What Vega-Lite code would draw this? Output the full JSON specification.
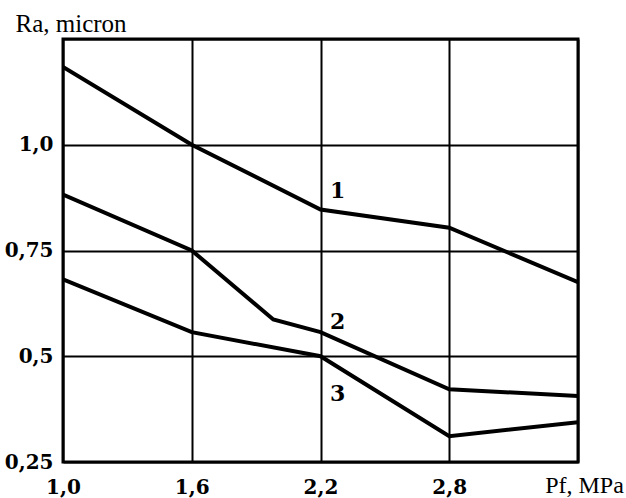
{
  "$schema": "https://vega.github.io/schema/vega-lite/v6.json",
  "autosize": {"type": "none"},
  "width": 515,
  "height": 423,
  "padding": {"left": 63, "top": 39, "right": 48, "bottom": 36},
  "background": "white",
  "config": {
    "view": {"stroke": "black", "strokeWidth": 3},
    "axis": {
      "grid": true,
      "gridColor": "black",
      "gridWidth": 2,
      "gridOpacity": 1,
      "domain": false,
      "ticks": false,
      "labelColor": "black",
      "labelFont": "DejaVu Serif",
      "labelFontWeight": "bold",
      "labelFontSize": 20,
      "titleColor": "black",
      "titleFont": "Liberation Serif, Times New Roman, serif",
      "titleFontWeight": "normal"
    }
  },
  "datasets": {
    "curves": [
      {"series": "1", "pf": 1.0, "ra": 1.184},
      {"series": "1", "pf": 1.6, "ra": 1.0},
      {"series": "1", "pf": 2.2, "ra": 0.847},
      {"series": "1", "pf": 2.8, "ra": 0.804},
      {"series": "1", "pf": 3.4, "ra": 0.675},
      {"series": "2", "pf": 1.0, "ra": 0.882},
      {"series": "2", "pf": 1.6, "ra": 0.75},
      {"series": "2", "pf": 1.98, "ra": 0.587},
      {"series": "2", "pf": 2.2, "ra": 0.557},
      {"series": "2", "pf": 2.8, "ra": 0.422},
      {"series": "2", "pf": 3.4, "ra": 0.406},
      {"series": "3", "pf": 1.0, "ra": 0.682},
      {"series": "3", "pf": 1.6, "ra": 0.557},
      {"series": "3", "pf": 2.2, "ra": 0.5},
      {"series": "3", "pf": 2.8, "ra": 0.311},
      {"series": "3", "pf": 3.4, "ra": 0.344}
    ],
    "tags": [
      {"series": "1", "pf": 2.28, "ra": 0.89},
      {"series": "2", "pf": 2.28, "ra": 0.582},
      {"series": "3", "pf": 2.28, "ra": 0.41}
    ]
  },
  "layer": [
    {
      "data": {"name": "curves"},
      "mark": {"type": "line", "color": "black", "strokeWidth": 4, "strokeJoin": "miter", "clip": true},
      "encoding": {
        "x": {
          "field": "pf",
          "type": "quantitative",
          "scale": {"domain": [1.0, 3.4], "nice": false, "zero": false},
          "axis": {
            "values": [1.0, 1.6, 2.2, 2.8, 3.4],
            "title": null,
            "labelFlush": false,
            "labelOverlap": false,
            "labelExpr": "datum.value == 3.4 ? 'Pf, MPa' : replace(format(datum.value, '.1f'), '.', ',')",
            "labelPadding": {"condition": {"test": "datum.value == 3.4", "value": 11}, "value": 15},
            "labelOffset": {"condition": {"test": "datum.value == 3.4", "value": 6}, "value": 0},
            "labelFont": {"condition": {"test": "datum.value == 3.4", "value": "Liberation Serif"}, "value": "DejaVu Serif"},
            "labelFontWeight": {"condition": {"test": "datum.value == 3.4", "value": "normal"}, "value": "bold"},
            "labelFontSize": {"condition": {"test": "datum.value == 3.4", "value": 24}, "value": 20}
          }
        },
        "y": {
          "field": "ra",
          "type": "quantitative",
          "scale": {"domain": [0.25, 1.25], "nice": false, "zero": false},
          "axis": {
            "values": [0.25, 0.5, 0.75, 1.0, 1.25],
            "labelPadding": 10,
            "labelFlush": false,
            "labelOverlap": false,
            "labelExpr": "datum.value == 1.25 ? '' : datum.value == 1 ? '1,0' : datum.value == 0.5 ? '0,5' : replace(format(datum.value, '.2f'), '.', ',')",
            "title": "Ra, micron",
            "titleFont": "Liberation Serif, Times New Roman, serif",
            "titleFontSize": 25,
            "titleFontWeight": "normal",
            "titleColor": "black",
            "titleAngle": 0,
            "titleAlign": "left",
            "titleBaseline": "alphabetic",
            "titleX": -48,
            "titleY": -8
          }
        },
        "detail": {"field": "series"}
      }
    },
    {
      "data": {"name": "tags"},
      "mark": {"type": "text", "font": "DejaVu Serif", "fontSize": 22, "fontWeight": "bold", "color": "black"},
      "encoding": {
        "x": {"field": "pf", "type": "quantitative"},
        "y": {"field": "ra", "type": "quantitative"},
        "text": {"field": "series"}
      }
    }
  ]
}
